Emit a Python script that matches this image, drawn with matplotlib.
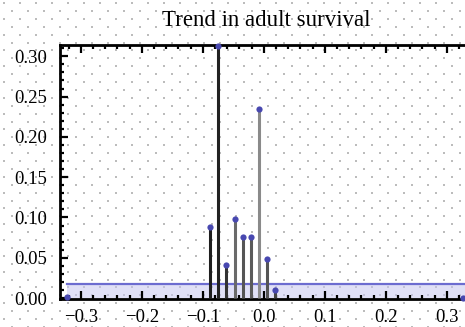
import numpy as np
import matplotlib.pyplot as plt

# trend estimates and their weights
trend = [-0.323, -0.0875, -0.0743, -0.0611, -0.0479, -0.0347, -0.0215, -0.0083, 0.0049, 0.0181, 0.327]
weight = [0.001, 0.088, 0.313, 0.041, 0.098, 0.076, 0.076, 0.234, 0.048, 0.010, 0.0]
stem_colors = ['#555555', '#1e1e1e', '#222222', '#333333', '#6a6a6a', '#555555',
               '#5a5a5a', '#8a8a8a', '#555555', '#444444', '#555555']
band_x = [-0.323, 0.34]
band_level = 0.018

xticks = [-0.3, -0.2, -0.1, 0.0, 0.1, 0.2, 0.3]
yticks = [0.0, 0.05, 0.10, 0.15, 0.20, 0.25, 0.30]

W, H = 465, 327
fig = plt.figure(figsize=(W / 100, H / 100), dpi=100)
fig.patch.set_facecolor('white')

# dotted page pattern behind everything
bg = fig.add_axes([0, 0, 1, 1], zorder=0)
bg.set_xlim(0, W)
bg.set_ylim(H, 0)
bg.axis('off')
px, py = [], []
for r, yy in enumerate(np.arange(3.0, H, 7.9)):
    off = 3.5 if r % 2 == 0 else 11.5
    for xx in np.arange(off, W, 16):
        px.append(xx)
        py.append(yy)
bg.scatter(px, py, s=1.5, marker='s', color='#bcbcbc', linewidths=0)

ax = fig.add_axes([60 / W, 28 / H, (W - 60) / W, (299 - 45) / H], zorder=1)
ax.patch.set_alpha(0)
ax.set_xlim(-0.334, 0.330)
ax.set_ylim(-0.0012, 0.314)

# shaded band near zero
ax.fill_between(band_x, 0, band_level, color='#c8c8f0', alpha=0.55, linewidth=0, zorder=1)
ax.plot(band_x, [band_level, band_level], color='#6c6cd0', lw=1.6, zorder=2)

for x, w, c in zip(trend, weight, stem_colors):
    ax.plot([x, x], [0, w], color=c, lw=2.2, zorder=3, solid_capstyle='butt')
ax.scatter(trend, weight, s=20, color='#4848b0', zorder=4, linewidths=0, clip_on=False)

ax.spines['right'].set_visible(False)
for s in ['left', 'bottom', 'top']:
    ax.spines[s].set_linewidth(2.0)

ax.set_xticks(xticks)
ax.set_xticklabels([f'{v:.1f}'.replace('-', '\u2212') for v in xticks])
ax.set_xticks(np.arange(-0.32, 0.33, 0.02), minor=True)
ax.set_yticks(yticks)
ax.set_yticklabels([f'{v:.2f}' for v in yticks])
ax.set_yticks(np.arange(0, 0.315, 0.01), minor=True)

ax.tick_params(axis='x', which='both', direction='in', top=True, bottom=True, width=1.6)
ax.tick_params(axis='x', which='major', length=6, pad=7)
ax.tick_params(axis='x', which='minor', length=3)
ax.tick_params(axis='y', which='both', direction='in', left=True, right=False, width=1.6)
ax.tick_params(axis='y', which='major', length=6, pad=9)
ax.tick_params(axis='y', which='minor', length=3)
for lab in ax.get_xticklabels() + ax.get_yticklabels():
    lab.set_fontfamily('Liberation Serif')
    lab.set_fontsize(13.5)

fig.text(266 / W, 1 - 20 / H, 'Trend in adult survival', ha='center', va='center',
         family='Liberation Serif', fontsize=16.5)

fig.savefig('out.png', dpi=100)
